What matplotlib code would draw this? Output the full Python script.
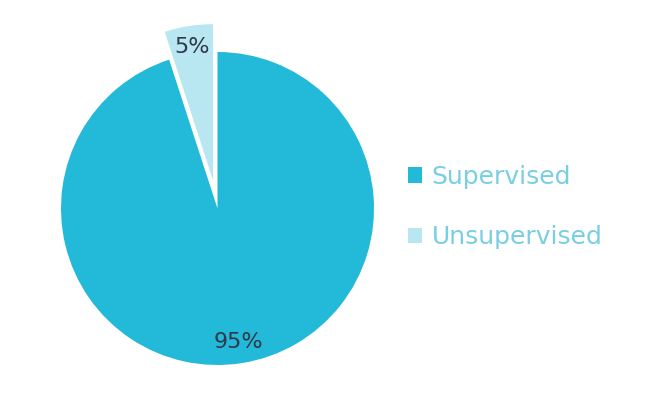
import matplotlib
matplotlib.use("Agg")
import matplotlib.pyplot as plt
from matplotlib.patches import Patch

categories = ["Supervised", "Unsupervised"]
values = [95, 5]
colors = ["#23b9d8", "#b9e7f1"]
explode = [0, 0.18]

fig = plt.figure(figsize=(6.51, 4.05), dpi=100)
W, H = 651, 405
cx, cy, r = 217.5, 208.5, 156.5
half = 1.25 * r
ax = fig.add_axes([(cx - half) / W, (H - cy - half) / H, 2 * half / W, 2 * half / H])

wedges, texts, autotexts = ax.pie(
    values, colors=colors, explode=explode, startangle=90, counterclock=False,
    autopct="%1.0f%%", pctdistance=0.865,
    textprops=dict(color="#2e3a4b", fontsize=16),
)
ax.set_xlim(-1.25, 1.25)
ax.set_ylim(-1.25, 1.25)
ax.set_aspect("equal")
ax.axis("off")

handles = [Patch(facecolor=c, edgecolor="none") for c in colors]
leg = fig.legend(handles, categories, loc="center left",
                 bbox_to_anchor=(385 / W, 1 - 207 / H), frameon=False,
                 fontsize=18, labelspacing=1.46, handlelength=0.56, handleheight=0.56,
                 handletextpad=0.4)
for t in leg.get_texts():
    t.set_color("#78cfe3")

fig.savefig("out.png", dpi=100, facecolor="white")
